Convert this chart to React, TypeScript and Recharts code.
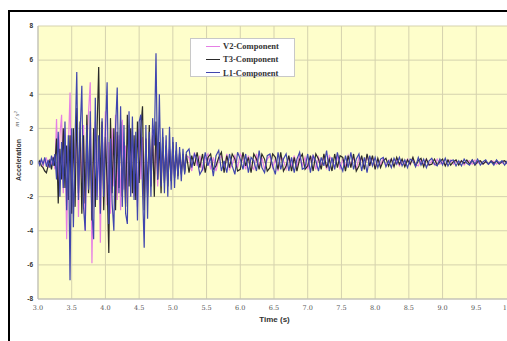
import React from 'react';
import { LineChart, Line, XAxis, YAxis, CartesianGrid, Legend } from 'recharts';

// Sampling of the record
const STRONG_START = 3.0;
const STRONG_DT = 0.025;
const TAIL_START = 5.24;
const TAIL_DT = 0.04;

// Strong-motion part (3.000 s – 5.200 s)
const V2_STRONG = [
  0.05, -0.1, 0.15, -0.2, 0.1, 0.25, -0.3, 0.2, -0.15, 0.35, -0.4,
  2.55, -1.2, 1.6, 2.8, -1.8, 2.0, -4.5, 0.8, 4.1, -2.6,
  1.5, -1.0, 2.6, -3.2, 1.8, -1.4, 2.2, -4.0, 1.2, 3.0,
  4.7, -5.9, 0.6, 2.4, -2.0, 1.4, -4.7, 2.2, -1.5, 3.0,
  -2.5, 1.2, -3.0, 2.0, -1.4, 2.8, -2.2, 1.6, -2.8, 2.5,
  -1.6, 1.0, -2.4, 2.2, -1.2, 1.8, -2.0, 1.4, -2.6, 2.0,
  -1.0, 1.5, -2.2, 1.2, -1.8, 1.4, -1.0, 2.2, -1.2, 1.6,
  -1.4, 1.0, -1.2, 0.9, -1.1, 1.3, -0.8, 0.9, -1.0, 0.7,
  -0.8, 0.6, -0.7, 0.5, -0.6, 0.4, -0.5, 0.4,
];
const T3_STRONG = [
  -0.05, 0.1, -0.2, -0.3, -0.5, -0.6, -0.2, 0.1, -0.4, 0.3, -0.2,
  1.4, -2.4, 0.8, -1.0, 2.0, -1.5, 1.0, -2.2, 1.6, -3.0,
  2.0, -2.6, 3.2, -1.8, 2.4, -3.0, 1.6, -2.4, 2.8, -1.8,
  1.2, -3.4, 2.0, -2.6, 1.8, 5.6, -1.6, 2.4, -2.8, 1.5,
  -1.2, -5.3, 2.6, -1.8, 2.0, -2.8, 1.8, -1.5, 2.4, -2.0,
  1.2, -2.6, 2.8, -1.4, 2.0, -1.8, 1.6, -2.2, 2.4, -1.2,
  2.0, 3.3, -2.8, 1.4, -2.0, 2.2, -1.4, 1.6, -2.0, 2.4,
  -1.0, 1.2, -1.8, 1.5, -1.2, 1.0, -1.4, 0.8, -1.1, 1.2,
  -0.9, 0.7, -0.8, 0.6, -0.7, 0.5, -0.6, 0.5,
];
const L1_STRONG = [
  0.1, -0.15, 0.2, -0.1, 0.3, -0.25, 0.15, -0.3, 0.4, -0.2, 0.5,
  -1.0, 1.8, -2.0, 1.2, -1.5, 2.4, -2.8, 1.6, -6.9, 2.0,
  -3.8, 1.4, 5.3, -2.2, 1.8, 4.5, -2.6, -4.0, 2.2, -1.6,
  3.0, -2.8, -4.5, 3.8, -2.2, 1.6, -3.0, 2.6, -2.0, 1.8,
  4.7, -3.6, 1.4, -2.4, -4.0, 2.0, 4.4, -1.8, 3.3, -2.6,
  2.2, -3.0, -3.6, 3.0, -2.0, 2.7, -2.2, 1.8, -3.4, 2.4,
  2.8, -1.6, -5.0, 2.2, -3.3, 1.8, -2.0, 2.6, 1.0, 6.4,
  -1.0, 4.0, -1.4, 2.0, -1.8, 1.6, -2.0, 2.1, -1.6, 1.5,
  -1.5, 1.2, -1.0, 0.9, -1.1, 0.8, -0.7, 0.6,
];

// Coda (5.24 s – 10.00 s)
const V2_TAIL = [
  0.3, -0.5, 0.6, -0.2, 0.4, -0.5, 0.2, 0.5, -0.4, 0.3,
  -0.5, 0.2, 0.4, -0.3, 0.5, -0.4, -0.1, 0.4, -0.3, 0.5,
  0.2, -0.4, 0.4, -0.2, -0.4, 0.5, -0.3, 0.3, -0.4, 0.2,
  0.4, -0.3, 0.2, -0.5, 0.4, 0.1, -0.4, 0.3, -0.2, 0.4,
  -0.3, 0.5, -0.2, 0.3, -0.4, 0.2, 0.4, -0.4, 0.3, -0.2,
  0.3, -0.4, 0.4, 0.1, -0.3, 0.4, -0.4, 0.2, -0.2, 0.4,
  -0.2, 0.3, -0.4, 0.3, 0.2, -0.3, 0.4, -0.2, 0.3, -0.3,
  0.2, -0.15, 0.25, -0.2, 0.1, 0.2, -0.2, 0.15, -0.2, 0.1,
  -0.1, 0.2, -0.15, 0.25, -0.1, -0.2, 0.15, -0.1, 0.2, -0.15,
  0.1, -0.15, 0.2, -0.1, 0.05, -0.15, 0.1, 0.15, -0.1, 0.1,
  -0.1, 0.1, -0.15, 0.05, 0.1, -0.1, 0.15, -0.05, 0.1, -0.1,
  0.05, -0.1, 0.1, 0.05, -0.1, 0.05, -0.05, 0.1, -0.1, 0.05,
];
const T3_TAIL = [
  -0.6, 0.4, -0.2, 0.6, -0.3, 0.5, -0.6, 0.3, 0.5, -0.4,
  -0.2, 0.3, 0.6, -0.6, 0.4, -0.3, 0.5, 0.2, -0.5, -0.4,
  0.6, -0.2, 0.3, -0.6, 0.5, 0.2, -0.4, 0.5, 0.2, -0.5,
  -0.3, 0.5, 0.3, -0.4, 0.6, -0.5, -0.2, 0.4, -0.5, 0.3,
  -0.5, 0.2, 0.5, -0.4, -0.2, 0.4, -0.5, 0.5, 0.2, -0.4,
  0.5, -0.3, 0.2, -0.5, 0.5, -0.3, 0.4, 0.3, -0.5, 0.4,
  -0.3, 0.5, -0.5, -0.2, 0.4, -0.4, 0.5, -0.2, 0.4, -0.4,
  0.25, -0.3, 0.1, 0.25, -0.2, 0.2, -0.25, 0.3, -0.1, 0.2,
  -0.25, 0.15, -0.1, 0.3, -0.2, 0.1, 0.25, -0.25, 0.2, -0.15,
  -0.1, 0.2, -0.15, 0.05, 0.2, -0.2, 0.15, -0.15, 0.05, 0.15,
  -0.15, 0.1, -0.05, 0.15, -0.1, 0.15, -0.15, 0.05, 0.1, -0.1,
  0.05, -0.1, 0.1, -0.05, 0.1, -0.1, 0.05, 0.1, -0.05, -0.1,
];
const L1_TAIL = [
  0.8, -0.3, 0.5, 0.2, -0.7, -0.4, 0.6, -0.2, 0.3, -0.8,
  0.4, 0.7, -0.5, 0.1, -0.6, 0.5, -0.2, -0.7, 0.6, 0.2,
  -0.4, 0.5, -0.6, 0.3, 0.1, -0.5, 0.7, -0.3, -0.6, 0.4,
  0.5, -0.2, -0.7, 0.6, -0.4, 0.2, 0.5, -0.5, 0.3, -0.6,
  0.2, 0.6, -0.4, -0.3, 0.5, -0.6, 0.4, 0.1, -0.5, 0.3,
  -0.2, 0.7, -0.5, 0.3, -0.4, 0.6, -0.1, -0.5, 0.4, -0.3,
  0.6, -0.4, 0.2, 0.5, -0.5, 0.3, -0.6, 0.4, -0.2, 0.3,
  -0.3, 0.2, 0.3, -0.25, 0.1, -0.3, 0.25, -0.1, 0.3, -0.2,
  0.15, -0.3, 0.2, 0.1, -0.25, 0.3, -0.15, 0.2, -0.3, 0.1,
  0.25, -0.1, -0.2, 0.2, -0.15, 0.25, -0.2, 0.1, 0.15, -0.2,
  0.1, -0.2, 0.2, -0.05, -0.15, 0.15, -0.1, 0.2, -0.15, 0.05,
  0.15, -0.1, 0.05, -0.15, 0.15, -0.05, 0.1, -0.15, 0.1, -0.05,
];

const X_TICKS = [3.0, 3.5, 4.0, 4.5, 5.0, 5.5, 6.0, 6.5, 7.0, 7.5, 8.0, 8.5, 9.0, 9.5, 10.0];
const Y_TICKS = [-8, -6, -4, -2, 0, 2, 4, 6, 8];

const SERIES = [
  { key: 'v2', name: 'V2-Component', color: '#E57FE5' },
  { key: 't3', name: 'T3-Component', color: '#2A2A2A' },
  { key: 'l1', name: 'L1-Component', color: '#4046AE' },
];

const rows: { t: number; v2: number; t3: number; l1: number }[] = [];
V2_STRONG.forEach((v, i) => {
  rows.push({ t: +(STRONG_START + i * STRONG_DT).toFixed(3), v2: v, t3: T3_STRONG[i], l1: L1_STRONG[i] });
});
V2_TAIL.forEach((v, i) => {
  rows.push({ t: +(TAIL_START + i * TAIL_DT).toFixed(3), v2: v, t3: T3_TAIL[i], l1: L1_TAIL[i] });
});

const LegendBox = () => (
  <div
    style={{
      position: 'relative',
      width: 105,
      height: 39,
      background: '#FFFFFF',
      border: '1px solid #C8C8C8',
      boxSizing: 'border-box',
    }}
  >
    {SERIES.map((s, i) => (
      <div
        key={s.key}
        style={{
          position: 'absolute',
          left: 0,
          top: 1 + i * 13.3,
          height: 12,
          width: '100%',
          display: 'flex',
          alignItems: 'center',
        }}
      >
        <div style={{ marginLeft: 15, width: 14, height: 1, background: s.color }} />
        <span
          style={{
            marginLeft: 3,
            fontFamily: '"Liberation Serif", serif',
            fontWeight: 'bold',
            fontSize: 8.5,
            color: '#333',
            lineHeight: '12px',
          }}
        >
          {s.name}
        </span>
      </div>
    ))}
  </div>
);

const YLabel = () => (
  <g>
    <text
      x={18.5}
      y={160}
      transform="rotate(-90, 18.5, 160)"
      textAnchor="middle"
      dominantBaseline="central"
      fontFamily='"Liberation Sans", Arial, sans-serif'
      fontWeight="bold"
      fontSize={7}
      fill="#333"
    >
      Acceleration
    </text>
    <text
      x={17}
      y={119}
      transform="rotate(-90, 17, 119)"
      textAnchor="middle"
      dominantBaseline="central"
      fontFamily='"Liberation Serif", serif'
      fontStyle="italic"
      fontSize={7}
      fill="#666"
    >
      m / s²
    </text>
  </g>
);

const XLabel = () => (
  <text
    x={274.5}
    y={319}
    textAnchor="middle"
    dominantBaseline="central"
    fontFamily='"Liberation Sans", Arial, sans-serif'
    fontWeight="bold"
    fontSize={8}
    fill="#333"
  >
    Time (s)
  </text>
);

export default function App() {
  return (
    <div
      style={{
        position: 'fixed',
        left: 0,
        top: 0,
        width: 507,
        height: 341,
        overflow: 'hidden',
        background: '#FFFFFF',
      }}
    >
      <div
        style={{
          position: 'absolute',
          left: 8,
          top: 10,
          width: 520,
          height: 360,
          border: '2px solid #000',
          boxSizing: 'border-box',
        }}
      />
      <div style={{ position: 'absolute', left: 0, top: 0 }}>
        <LineChart
          width={520}
          height={341}
          data={rows}
          margin={{ top: 26, right: 10, bottom: 0, left: 0 }}
        >
          <CartesianGrid
            fill="#FEFECB"
            stroke="#D5D2AE"
            strokeWidth={1}
            horizontalValues={Y_TICKS}
            verticalValues={X_TICKS}
          />
          <XAxis
            dataKey="t"
            type="number"
            domain={[3, 10]}
            ticks={X_TICKS}
            allowDataOverflow
            height={42}
            tickSize={0}
            tickMargin={6}
            tickFormatter={(v: number) => v.toFixed(1)}
            tick={{ fontSize: 6.5, fill: '#555', fontFamily: '"DejaVu Serif", serif' }}
            axisLine={{ stroke: '#BDBDBD' }}
            label={<XLabel />}
          />
          <YAxis
            type="number"
            domain={[-8, 8]}
            ticks={Y_TICKS}
            allowDataOverflow
            width={38}
            tickSize={0}
            tickMargin={5}
            tick={{ fontSize: 6.5, fill: '#333', fontWeight: 'bold', fontFamily: '"Liberation Sans", sans-serif' }}
            axisLine={{ stroke: '#BDBDBD' }}
            label={<YLabel />}
          />
          <Legend
            layout="horizontal"
            verticalAlign="middle"
            align="center"
            content={<LegendBox />}
            wrapperStyle={{ position: 'absolute', left: 190, top: 38, width: 105, height: 39 }}
          />
          {SERIES.map((s) => (
            <Line
              key={s.key}
              type="linear"
              dataKey={s.key}
              name={s.name}
              stroke={s.color}
              strokeWidth={1.2}
              dot={false}
              activeDot={false}
              isAnimationActive={false}
            />
          ))}
        </LineChart>
      </div>
    </div>
  );
}
